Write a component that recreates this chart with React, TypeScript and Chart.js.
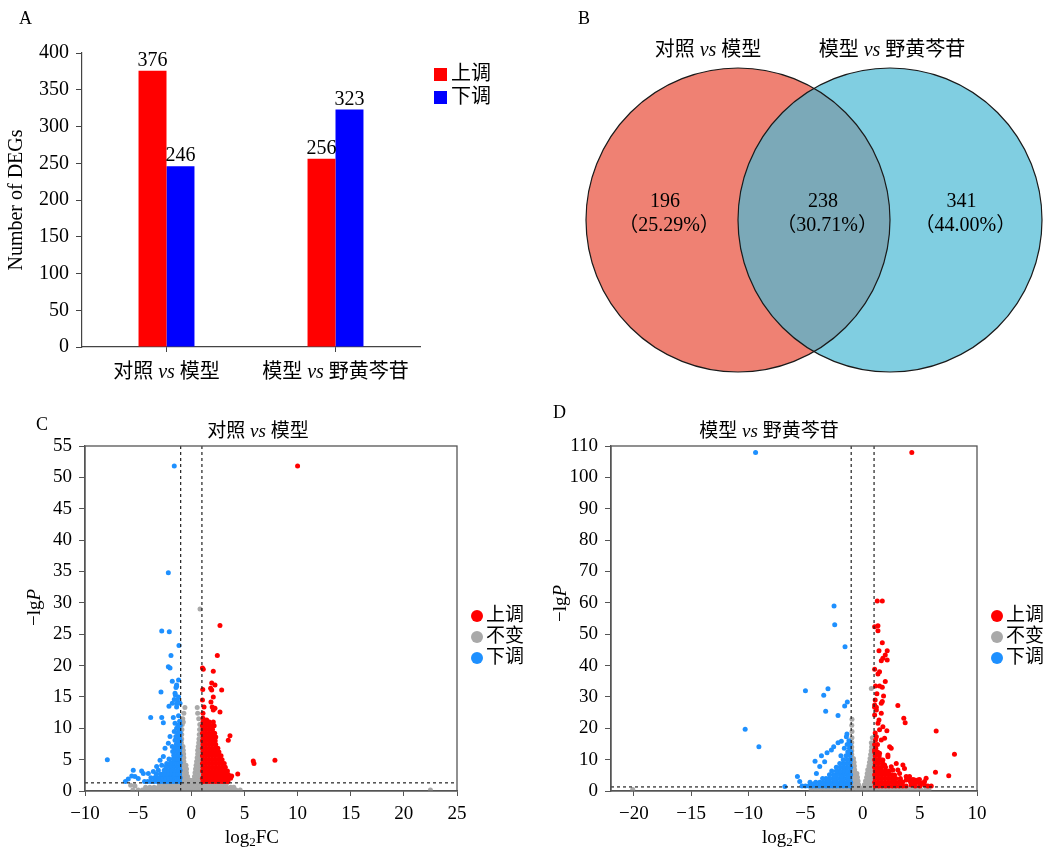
import React, { useEffect, useRef } from "react";
import { Chart, registerables } from "chart.js";

Chart.register(...registerables);

// ---------------- DATA ----------------
// Panel A: bar chart
const barCategories = ["对照 vs 模型", "模型 vs 野黄芩苷"];
const barSeries = ["上调", "下调"];
const upCounts = [376, 256];
const downCounts = [246, 323];

// Panel B: Venn diagram
const vennSets = ["对照 vs 模型", "模型 vs 野黄芩苷"];
const vennCounts = [196, 238, 341];
const vennPercents = ["（25.29%）", "（30.71%）", "（44.00%）"];
const vennCenterX = [0, 1];
const vennCenterY = [0, 0];
const vennRadius = 1;

// Volcano shared
const volcanoSeries = ["上调", "不变", "下调"];
const fcThresholds = [-1, 1];
const pThreshold = 1.3;

// Panel C: 对照 vs 模型
const cTitle = "对照 vs 模型";
const cUpOutliers: number[][] = [
  [10.0, 51.8], [2.7, 26.4], [2.45, 21.6], [1.05, 19.6], [1.13, 19.4], [2.07, 19.1], [1.92, 17.2], [2.23, 16.9],
  [1.82, 16.4], [2.86, 16.1], [1.92, 16.1], [1.08, 16.2], [1.05, 14.5], [2.07, 15.0], [1.85, 14.2], [1.2, 13.4],
  [1.97, 13.4], [2.07, 12.9], [2.23, 13.2], [2.7, 12.6], [1.1, 12.4], [1.1, 11.6], [1.45, 11.3], [2.07, 11.0],
  [3.64, 8.8], [3.48, 8.1], [5.83, 4.8], [5.9, 4.4], [7.87, 4.9], [4.37, 2.7], [3.8, 2.4],
];
const cUpCluster: number[][] = [
  [1.1, 1.5], [1.4, 1.5], [1.7, 1.5], [2.0, 1.5], [2.3, 1.5], [2.6, 1.5], [2.9, 1.5], [3.2, 1.5], [3.45, 1.5],
  [1.05, 2.05], [1.3, 2.05], [1.6, 2.05], [1.9, 2.05], [2.2, 2.05], [2.5, 2.05], [2.8, 2.05], [3.1, 2.05], [3.4, 2.05], [3.7, 2.05],
  [1.15, 2.6], [1.45, 2.6], [1.75, 2.6], [2.05, 2.6], [2.35, 2.6], [2.65, 2.6], [2.95, 2.6], [3.25, 2.6], [3.5, 2.6],
  [1.05, 3.2], [1.35, 3.2], [1.65, 3.2], [1.95, 3.2], [2.25, 3.2], [2.55, 3.2], [2.85, 3.2], [3.15, 3.2], [3.4, 3.2],
  [1.1, 3.8], [1.4, 3.8], [1.7, 3.8], [2.0, 3.8], [2.3, 3.8], [2.6, 3.8], [2.9, 3.8], [3.2, 3.8],
  [1.05, 4.4], [1.35, 4.4], [1.65, 4.4], [1.95, 4.4], [2.25, 4.4], [2.55, 4.4], [2.85, 4.4], [3.1, 4.4],
  [1.1, 5.0], [1.4, 5.0], [1.7, 5.0], [2.0, 5.0], [2.3, 5.0], [2.6, 5.0], [2.9, 5.0],
  [1.05, 5.6], [1.35, 5.6], [1.65, 5.6], [1.95, 5.6], [2.25, 5.6], [2.55, 5.6], [2.8, 5.6],
  [1.1, 6.2], [1.4, 6.2], [1.7, 6.2], [2.0, 6.2], [2.3, 6.2], [2.6, 6.2],
  [1.05, 6.8], [1.35, 6.8], [1.65, 6.8], [1.95, 6.8], [2.25, 6.8], [2.5, 6.8],
  [1.1, 7.4], [1.4, 7.4], [1.7, 7.4], [2.0, 7.4], [2.3, 7.4],
  [1.05, 8.0], [1.35, 8.0], [1.65, 8.0], [1.95, 8.0], [2.25, 8.0],
  [1.1, 8.6], [1.4, 8.6], [1.7, 8.6], [2.0, 8.6], [2.3, 8.6],
  [1.05, 9.2], [1.35, 9.2], [1.65, 9.2], [1.95, 9.2], [2.2, 9.2],
  [1.1, 9.8], [1.4, 9.8], [1.7, 9.8], [2.0, 9.8],
  [1.05, 10.4], [1.35, 10.4], [1.65, 10.4], [1.95, 10.4], [2.15, 10.4],
  [1.1, 11.0], [1.4, 11.0], [1.7, 11.0],
];
const cDownOutliers: number[][] = [
  [-1.6, 51.8], [-2.16, 34.8], [-2.78, 25.5], [-2.07, 25.4], [-1.16, 23.2], [-1.91, 21.6], [-2.16, 19.8], [-2.0, 19.6],
  [-1.2, 17.7], [-1.79, 17.5], [-1.38, 16.9], [-1.38, 16.7], [-1.44, 16.5], [-2.85, 15.8], [-1.53, 15.6], [-1.5, 15.3],
  [-1.2, 15.0], [-1.6, 14.6], [-1.3, 14.5], [-1.06, 14.0], [-1.79, 14.0], [-1.38, 13.9], [-2.1, 13.5], [-1.38, 13.4],
  [-3.82, 11.7], [-2.78, 11.7], [-1.69, 11.7], [-2.63, 10.9], [-1.53, 10.8], [-1.38, 10.0], [-1.6, 9.5], [-2.0, 8.7],
  [-1.53, 8.1], [-2.16, 7.6], [-1.79, 7.1], [-2.47, 6.8], [-2.63, 5.5], [-2.94, 4.9], [-2.31, 4.4], [-2.78, 4.1],
  [-3.26, 3.9], [-3.1, 3.3], [-5.46, 3.3], [-4.67, 3.2], [-3.57, 3.1], [-4.04, 2.8], [-4.51, 2.8], [-5.6, 2.4],
  [-5.3, 2.3], [-4.99, 2.0], [-5.93, 1.9], [-6.2, 1.5], [-7.9, 5.0],
];
const cDownCluster: number[][] = [
  [-1.1, 1.5], [-1.4, 1.5], [-1.7, 1.5], [-2.0, 1.5], [-2.3, 1.5], [-2.6, 1.5], [-2.9, 1.5], [-3.2, 1.5], [-3.5, 1.5], [-3.8, 1.5], [-4.1, 1.5], [-4.4, 1.5],
  [-1.05, 2.1], [-1.35, 2.1], [-1.65, 2.1], [-1.95, 2.1], [-2.25, 2.1], [-2.55, 2.1], [-2.85, 2.1], [-3.15, 2.1], [-3.45, 2.1], [-3.8, 2.1],
  [-1.1, 2.7], [-1.4, 2.7], [-1.7, 2.7], [-2.0, 2.7], [-2.3, 2.7], [-2.6, 2.7], [-2.9, 2.7], [-3.3, 2.7],
  [-1.05, 3.3], [-1.35, 3.3], [-1.65, 3.3], [-1.95, 3.3], [-2.25, 3.3], [-2.55, 3.3],
  [-1.1, 3.9], [-1.4, 3.9], [-1.7, 3.9], [-2.0, 3.9], [-2.4, 3.9],
  [-1.05, 4.5], [-1.35, 4.5], [-1.65, 4.5], [-1.95, 4.5],
  [-1.1, 5.1], [-1.4, 5.1], [-1.7, 5.1], [-2.1, 5.1],
  [-1.05, 5.7], [-1.35, 5.7], [-1.65, 5.7],
  [-1.1, 6.3], [-1.4, 6.3], [-1.75, 6.3],
  [-1.05, 6.9], [-1.35, 6.9], [-1.6, 6.9],
  [-1.1, 7.5], [-1.4, 7.5], [-1.05, 8.1], [-1.3, 8.1], [-1.1, 8.7], [-1.45, 8.7],
  [-1.05, 9.3], [-1.3, 9.3], [-1.15, 9.9], [-1.05, 10.5], [-1.25, 10.5], [-1.1, 11.1], [-1.2, 12.0],
];
const cFlat: number[][] = [
  [-5.5, 0.15], [-5.0, 0.15], [-4.6, 0.15], [-4.2, 0.15], [-3.8, 0.15], [-3.4, 0.15], [-3.0, 0.15], [-2.6, 0.15], [-2.2, 0.15],
  [-1.8, 0.15], [-1.4, 0.15], [-1.0, 0.15], [-0.6, 0.15], [-0.2, 0.15], [0.2, 0.15], [0.6, 0.15], [1.0, 0.15], [1.4, 0.15],
  [1.8, 0.15], [2.2, 0.15], [2.6, 0.15], [3.0, 0.15], [3.4, 0.15], [3.8, 0.15], [4.2, 0.15], [4.6, 0.15],
  [-5.7, 0.9], [-5.3, 0.8], [-4.3, 0.6], [-3.9, 0.6], [-3.5, 0.6], [-3.1, 0.6], [-2.7, 0.6], [-2.3, 0.6], [-1.9, 0.6],
  [-1.5, 0.6], [-1.1, 0.6], [-0.7, 0.6], [-0.3, 0.6], [0.1, 0.6], [0.5, 0.6], [0.9, 0.6], [1.3, 0.6], [1.7, 0.6],
  [2.1, 0.6], [2.5, 0.6], [2.9, 0.6], [3.3, 0.6], [3.7, 0.6], [4.0, 0.6],
  [-3.0, 1.1], [-2.6, 1.1], [-2.2, 1.1], [-1.8, 1.1], [-1.4, 1.1], [-1.0, 1.1], [-0.6, 1.1], [-0.2, 1.1], [0.2, 1.1],
  [0.6, 1.1], [1.0, 1.1], [1.4, 1.1], [1.8, 1.1], [2.2, 1.1], [2.6, 1.1], [3.0, 1.1], [3.3, 1.1],
  [-0.95, 1.7], [-0.65, 1.7], [-0.35, 1.7], [-0.1, 1.7], [-0.95, 2.3], [-0.65, 2.3], [-0.35, 2.3],
  [-0.95, 2.9], [-0.7, 2.9], [-0.45, 2.9], [-0.95, 3.5], [-0.7, 3.5], [-0.45, 3.5], [-0.95, 4.1], [-0.7, 4.1], [-0.5, 4.1],
  [-0.95, 4.7], [-0.7, 4.7], [-0.95, 5.3], [-0.7, 5.3], [-0.95, 5.9], [-0.72, 5.9], [-0.95, 6.5], [-0.75, 6.5],
  [-0.95, 7.1], [-0.78, 7.1], [-0.93, 7.7], [-0.9, 8.3], [-0.9, 9.0], [-0.88, 9.8], [-0.85, 10.6], [-0.75, 11.0],
  [-0.8, 11.5], [-0.7, 12.4], [-0.6, 13.3],
  [0.15, 1.7], [0.45, 1.7], [0.75, 1.7], [0.95, 1.7], [0.3, 2.3], [0.55, 2.3], [0.8, 2.3], [0.95, 2.3],
  [0.35, 2.9], [0.6, 2.9], [0.85, 2.9], [0.4, 3.5], [0.65, 3.5], [0.9, 3.5], [0.45, 4.1], [0.7, 4.1], [0.92, 4.1],
  [0.5, 4.7], [0.75, 4.7], [0.93, 4.7], [0.55, 5.3], [0.8, 5.3], [0.95, 5.3], [0.6, 5.9], [0.85, 5.9],
  [0.6, 6.5], [0.85, 6.5], [0.65, 7.1], [0.88, 7.1], [0.7, 7.7], [0.9, 7.7], [0.72, 8.3], [0.92, 8.3],
  [0.75, 9.0], [0.78, 9.8], [0.8, 10.6], [0.7, 11.5], [0.6, 12.4], [0.56, 13.3], [0.82, 29.0], [22.5, 0.15],
];

// Panel D: 模型 vs 野黄芩苷
const dTitle = "模型 vs 野黄芩苷";
const dXTicks = [-20, -15, -10, -5, 0, 5, 10];
const dUpOutliers: number[][] = [
  [4.3, 107.9], [1.28, 60.6], [1.72, 60.6], [1.05, 52.4], [1.34, 52.7], [1.34, 51.1], [1.72, 47.3], [1.43, 44.7],
  [2.15, 44.7], [1.98, 43.4], [1.77, 42.3], [2.15, 41.8], [1.63, 41.5], [1.05, 38.8], [1.48, 38.0], [1.34, 37.3],
  [1.98, 34.9], [1.13, 33.5], [1.48, 33.5], [1.72, 33.1], [1.83, 30.3], [1.72, 28.5], [1.63, 28.0], [1.05, 27.4],
  [3.08, 27.3], [1.2, 26.7], [1.05, 26.7], [1.2, 25.8], [1.63, 24.8], [1.05, 24.2], [3.6, 23.2], [1.43, 22.6],
  [3.72, 21.8], [1.34, 21.6], [1.77, 20.5], [1.48, 19.5], [2.12, 19.2], [6.43, 19.1], [1.2, 17.3], [1.92, 16.8],
  [1.63, 16.3], [1.13, 16.3], [2.36, 14.1], [2.5, 13.6], [1.05, 13.1], [1.48, 12.0], [8.03, 11.7], [2.21, 11.5],
  [2.21, 10.9], [1.77, 9.9], [1.34, 9.9], [2.94, 8.8], [3.52, 8.3], [1.92, 8.3], [2.5, 7.7], [3.66, 7.2],
  [2.64, 6.7], [3.08, 6.7], [1.48, 6.7], [6.37, 6.0], [3.23, 5.6], [2.21, 5.6], [2.79, 5.1], [7.53, 4.9],
  [4.1, 4.6], [3.81, 4.6], [5.55, 4.05], [4.4, 3.7], [4.97, 3.7], [4.54, 3.5], [4.83, 3.5], [3.81, 3.5],
  [4.1, 3.5], [5.41, 3.0], [3.38, 3.0], [2.64, 3.0], [5.12, 2.5], [4.39, 2.5], [4.97, 2.5], [5.41, 1.9],
  [4.25, 1.9], [6.0, 1.6], [1.1, 29.0], [1.25, 31.0], [1.1, 18.5],
];
const dUpCluster: number[][] = [
  [1.1, 1.6], [1.4, 1.6], [1.7, 1.6], [2.0, 1.6], [2.3, 1.6], [2.6, 1.6], [2.9, 1.6], [3.2, 1.6], [3.5, 1.6], [3.8, 1.6], [4.6, 1.6], [5.0, 1.6], [5.7, 1.6],
  [1.05, 2.8], [1.35, 2.8], [1.65, 2.8], [1.95, 2.8], [2.25, 2.8], [2.55, 2.8], [2.85, 2.8], [3.15, 2.8], [3.5, 2.8], [4.2, 2.8], [4.7, 2.8],
  [1.1, 4.0], [1.4, 4.0], [1.7, 4.0], [2.0, 4.0], [2.3, 4.0], [2.6, 4.0], [2.9, 4.0], [3.3, 4.0],
  [1.05, 5.2], [1.35, 5.2], [1.65, 5.2], [1.95, 5.2], [2.25, 5.2], [2.55, 5.2],
  [1.1, 6.4], [1.4, 6.4], [1.7, 6.4], [2.0, 6.4], [2.3, 6.4],
  [1.05, 7.6], [1.35, 7.6], [1.65, 7.6], [2.0, 7.6],
  [1.1, 8.8], [1.4, 8.8], [1.75, 8.8], [1.05, 10.0], [1.3, 10.0], [1.6, 10.0],
  [1.1, 11.2], [1.45, 11.2], [1.05, 12.4], [1.3, 12.4], [1.15, 13.6], [1.05, 14.8], [1.3, 14.8],
];
const dDownOutliers: number[][] = [
  [-9.36, 107.9], [-2.5, 59.0], [-2.44, 53.0], [-1.54, 46.0], [-3.03, 32.6], [-5.0, 32.0], [-3.4, 30.5], [-1.34, 28.4],
  [-1.57, 27.1], [-3.23, 25.4], [-2.15, 24.1], [-10.27, 19.7], [-1.37, 18.2], [-1.42, 17.3], [-1.86, 15.9], [-2.15, 15.4],
  [-9.07, 14.1], [-2.53, 14.1], [-2.73, 13.1], [-3.11, 12.2], [-3.6, 11.2], [-4.16, 9.5], [-3.32, 9.3], [-3.75, 7.8],
  [-4.04, 5.6], [-5.7, 4.6], [-5.5, 3.0], [-6.8, 1.4],
];
const dDownCluster: number[][] = [
  [-1.1, 1.6], [-1.4, 1.6], [-1.7, 1.6], [-2.0, 1.6], [-2.3, 1.6], [-2.6, 1.6], [-2.9, 1.6], [-3.2, 1.6], [-3.5, 1.6], [-3.8, 1.6], [-4.1, 1.6], [-4.4, 1.6], [-4.7, 1.6], [-5.0, 1.6], [-5.3, 1.6],
  [-1.05, 2.8], [-1.35, 2.8], [-1.65, 2.8], [-1.95, 2.8], [-2.25, 2.8], [-2.55, 2.8], [-2.85, 2.8], [-3.15, 2.8], [-3.45, 2.8], [-3.75, 2.8], [-4.1, 2.8], [-4.6, 2.8],
  [-1.1, 4.0], [-1.4, 4.0], [-1.7, 4.0], [-2.0, 4.0], [-2.3, 4.0], [-2.6, 4.0], [-2.9, 4.0], [-3.2, 4.0], [-3.5, 4.0],
  [-1.05, 5.2], [-1.35, 5.2], [-1.65, 5.2], [-1.95, 5.2], [-2.25, 5.2], [-2.55, 5.2], [-2.9, 5.2],
  [-1.1, 6.4], [-1.4, 6.4], [-1.7, 6.4], [-2.0, 6.4], [-2.3, 6.4], [-2.7, 6.4],
  [-1.05, 7.6], [-1.35, 7.6], [-1.65, 7.6], [-1.95, 7.6], [-2.3, 7.6],
  [-1.1, 8.8], [-1.4, 8.8], [-1.7, 8.8], [-2.0, 8.8], [-1.05, 10.0], [-1.35, 10.0], [-1.7, 10.0],
  [-1.1, 11.2], [-1.45, 11.2], [-1.9, 11.2], [-1.05, 12.4], [-1.3, 12.4], [-1.15, 13.6], [-1.6, 13.6],
  [-1.1, 14.8], [-1.35, 14.8], [-1.2, 16.0],
  [-1.25, 2.2], [-1.85, 2.2], [-2.45, 2.2], [-3.05, 2.2], [-3.6, 2.2], [-4.3, 2.2],
  [-1.25, 3.4], [-1.85, 3.4], [-2.45, 3.4], [-3.05, 3.4], [-1.25, 4.6], [-1.85, 4.6], [-2.45, 4.6],
];
const dFlat: number[][] = [
  [-4.5, 0.3], [-4.1, 0.3], [-3.7, 0.3], [-3.3, 0.3], [-2.9, 0.3], [-2.5, 0.3], [-2.1, 0.3], [-1.7, 0.3], [-1.3, 0.3],
  [-0.9, 0.3], [-0.5, 0.3], [-0.1, 0.3], [0.3, 0.3], [0.7, 0.3], [1.1, 0.3], [1.5, 0.3], [1.9, 0.3], [2.3, 0.3],
  [2.7, 0.3], [3.1, 0.3], [3.5, 0.3], [3.9, 0.3], [4.3, 0.3], [4.7, 0.3], [5.1, 0.3], [5.5, 0.3], [5.8, 0.3],
  [-4.2, 1.0], [-3.8, 1.0], [-3.4, 1.0], [-3.0, 1.0], [-2.6, 1.0], [-2.2, 1.0], [-1.8, 1.0], [-1.4, 1.0], [-1.0, 1.0],
  [-0.6, 1.0], [-0.2, 1.0], [0.2, 1.0], [0.6, 1.0], [1.0, 1.0], [1.4, 1.0], [1.8, 1.0], [2.2, 1.0], [2.6, 1.0],
  [3.0, 1.0], [3.4, 1.0], [3.8, 1.0], [4.2, 1.0], [4.6, 1.0], [5.0, 1.0], [-20.1, 0.5],
  [-0.95, 2.0], [-0.65, 2.0], [-0.35, 2.0], [-0.95, 3.2], [-0.65, 3.2], [-0.4, 3.2], [-0.95, 4.4], [-0.7, 4.4], [-0.45, 4.4],
  [-0.95, 5.6], [-0.7, 5.6], [-0.5, 5.6], [-0.95, 6.8], [-0.7, 6.8], [-0.95, 8.0], [-0.72, 8.0], [-0.95, 9.2], [-0.75, 9.2],
  [-0.95, 10.4], [-0.8, 10.4], [-0.95, 11.6], [-0.95, 12.8], [-0.95, 14.0], [-0.95, 15.5], [-0.93, 17.0], [-0.93, 19.0],
  [-0.95, 21.0], [-0.93, 22.9],
  [0.15, 2.0], [0.45, 2.0], [0.75, 2.0], [0.95, 2.0], [0.25, 3.2], [0.5, 3.2], [0.75, 3.2], [0.95, 3.2],
  [0.35, 4.4], [0.6, 4.4], [0.85, 4.4], [0.4, 5.6], [0.65, 5.6], [0.9, 5.6], [0.45, 6.8], [0.7, 6.8], [0.92, 6.8],
  [0.55, 8.0], [0.8, 8.0], [0.6, 9.2], [0.85, 9.2], [0.65, 10.4], [0.88, 10.4], [0.7, 11.6], [0.9, 11.6],
  [0.75, 12.8], [0.78, 14.0], [0.76, 15.4], [0.85, 17.0], [0.76, 32.7],
];

// ---------------- STYLE HELPERS ----------------
const FAMILY = "'Liberation Serif', 'Times New Roman', 'Noto Sans CJK SC', serif";
const fontStr = (size: number, italic = false) => `${italic ? "italic " : ""}${size}px ${FAMILY}`;
const RED = "#FF0000";
const BLUE = "#0000FF";
const V_RED = "#FF0000";
const V_GRAY = "#A9A9A9";
const V_BLUE = "#1E90FF";
const AXIS = "#555555";
const POINT_R = 2.5;

type Seg = { t: string; italic?: boolean; size?: number; dy?: number };

function drawSegs(ctx: CanvasRenderingContext2D, segs: Seg[], x: number, y: number, size: number, align: "center" | "left" = "center") {
  ctx.save();
  ctx.textBaseline = "middle";
  ctx.textAlign = "left";
  ctx.fillStyle = "#000";
  const widths = segs.map((s) => {
    ctx.font = fontStr(s.size ?? size, s.italic);
    return ctx.measureText(s.t).width;
  });
  const total = widths.reduce((a, b) => a + b, 0);
  let cx = align === "center" ? x - total / 2 : x;
  segs.forEach((s, i) => {
    ctx.font = fontStr(s.size ?? size, s.italic);
    ctx.fillText(s.t, cx, y + (s.dy ?? 0));
    cx += widths[i];
  });
  ctx.restore();
}

function comparisonSegs(text: string): Seg[] {
  const [a, b] = text.split(" vs ");
  return [{ t: a + " " }, { t: "vs", italic: true }, { t: " " + b }];
}

function drawRotated(ctx: CanvasRenderingContext2D, segs: Seg[], x: number, y: number, size: number) {
  ctx.save();
  ctx.translate(x, y);
  ctx.rotate(-Math.PI / 2);
  drawSegs(ctx, segs, 0, 0, size);
  ctx.restore();
}

function panelLetter(ctx: CanvasRenderingContext2D, letter: string, x: number, y: number) {
  drawSegs(ctx, [{ t: letter }], x, y, 18, "left");
}

const minusFmt = (v: any) => (Number(v) < 0 ? "\u2212" + Math.abs(Number(v)) : String(v));

// ---------------- CHART FACTORIES ----------------
function makeBar(canvas: HTMLCanvasElement) {
  return new Chart(canvas, {
    type: "bar",
    data: {
      labels: barCategories,
      datasets: [
        { label: barSeries[0], data: upCounts, backgroundColor: RED, borderWidth: 0 },
        { label: barSeries[1], data: downCounts, backgroundColor: BLUE, borderWidth: 0 },
      ],
    },
    options: {
      responsive: false,
      animation: false,
      devicePixelRatio: 1,
      layout: { padding: { top: 53, right: 120, left: 0, bottom: 0 } },
      plugins: { legend: { display: false }, tooltip: { enabled: false } },
      datasets: { bar: { categoryPercentage: 0.331, barPercentage: 1 } },
      scales: {
        x: {
          grid: { offset: false, drawOnChartArea: false, tickLength: 5, color: "#444" },
          border: { color: "#444", width: 1.2 },
          ticks: { display: false },
          afterFit: (s: any) => { s.height = 53; },
        },
        y: {
          min: 0,
          max: 400,
          ticks: { stepSize: 50, color: "#000", padding: 7, font: { family: FAMILY, size: 20 } },
          grid: { drawOnChartArea: false, tickLength: 6, color: "#444" },
          border: { color: "#444", width: 1.2 },
          afterFit: (s: any) => { s.width = 82; },
        },
      },
    },
    plugins: [
      {
        id: "barDecor",
        afterDraw(chart: any) {
          const ctx = chart.ctx as CanvasRenderingContext2D;
          const area = chart.chartArea;
          chart.data.datasets.forEach((ds: any, di: number) => {
            const meta = chart.getDatasetMeta(di);
            meta.data.forEach((el: any, i: number) => {
              ctx.save();
              ctx.font = fontStr(20);
              ctx.fillStyle = "#000";
              ctx.textAlign = "center";
              ctx.textBaseline = "alphabetic";
              ctx.fillText(String(ds.data[i]), el.x, el.y - 5);
              ctx.restore();
            });
          });
          const xs = chart.scales.x;
          barCategories.forEach((c, i) => {
            drawSegs(ctx, comparisonSegs(c), xs.getPixelForValue(i), area.bottom + 26, 20);
          });
          drawRotated(ctx, [{ t: "Number of DEGs" }], 17, (area.top + area.bottom) / 2, 20);
          chart.data.datasets.forEach((ds: any, i: number) => {
            const lx = area.right + 14;
            const ly = area.top + 15 + i * 23;
            ctx.fillStyle = ds.backgroundColor;
            ctx.fillRect(lx, ly, 13, 13);
            drawSegs(ctx, [{ t: ds.label }], lx + 17, ly + 7, 20, "left");
          });
          panelLetter(ctx, "A", 19, 19);
        },
      },
    ],
  } as any);
}

function makeVenn(canvas: HTMLCanvasElement) {
  return new Chart(canvas, {
    type: "scatter",
    data: {
      datasets: [
        { label: "centers", data: vennCenterX.map((x, i) => ({ x, y: vennCenterY[i] })), pointRadius: 0 },
      ],
    },
    options: {
      responsive: false,
      animation: false,
      devicePixelRatio: 1,
      layout: { padding: { left: 46, right: 4, top: 68, bottom: 28 } },
      plugins: { legend: { display: false }, tooltip: { enabled: false } },
      scales: {
        x: { display: false, min: -1, max: 2 },
        y: { display: false, min: -1, max: 1 },
      },
    },
    plugins: [
      {
        id: "vennDraw",
        afterDatasetsDraw(chart: any) {
          const ctx = chart.ctx as CanvasRenderingContext2D;
          const xs = chart.scales.x;
          const ys = chart.scales.y;
          const c = vennCenterX.map((x, i) => ({ x: xs.getPixelForValue(x), y: ys.getPixelForValue(vennCenterY[i]) }));
          const r = xs.getPixelForValue(vennRadius) - xs.getPixelForValue(0);
          const circle = (i: number) => {
            ctx.beginPath();
            ctx.arc(c[i].x, c[i].y, r, 0, Math.PI * 2);
          };
          ctx.save();
          circle(0); ctx.fillStyle = "#EF8173"; ctx.fill();
          circle(1); ctx.fillStyle = "#80CEE1"; ctx.fill();
          ctx.save();
          circle(0); ctx.clip();
          circle(1); ctx.fillStyle = "#7BA9B8"; ctx.fill();
          ctx.restore();
          ctx.strokeStyle = "#1a1a1a";
          ctx.lineWidth = 1.2;
          circle(0); ctx.stroke();
          circle(1); ctx.stroke();
          ctx.restore();
          drawSegs(ctx, comparisonSegs(vennSets[0]), c[0].x - 30, c[0].y - r - 17, 20);
          drawSegs(ctx, comparisonSegs(vennSets[1]), c[1].x + 2, c[1].y - r - 17, 20);
          const rx = [c[0].x - 0.48 * r, (c[0].x + c[1].x) / 2 + 0.06 * r, c[1].x + 0.47 * r];
          vennCounts.forEach((n, i) => {
            drawSegs(ctx, [{ t: String(n) }], rx[i], c[0].y - 18, 20);
            drawSegs(ctx, [{ t: vennPercents[i] }], rx[i] + 4, c[0].y + 6, 20);
          });
          panelLetter(ctx, "B", 38, 19);
        },
      },
    ],
  } as any);
}

type VolcanoCfg = {
  title: string;
  up: number[][];
  flat: number[][];
  down: number[][];
  xMin: number; xMax: number; xStep: number; xTicks?: number[];
  yMax: number; yStep: number;
  yAxisWidth: number; plotWidth: number;
  titleDx: number; xTitleDx: number;
  yTitleX: number; yTitleDy: number;
  letter: string; letterX: number; letterY: number;
};

function makeVolcano(canvas: HTMLCanvasElement, cfg: VolcanoCfg) {
  const pts = (arr: number[][]) => arr.map(([x, y]) => ({ x, y }));
  const colors = [V_RED, V_GRAY, V_BLUE];
  return new Chart(canvas, {
    type: "scatter",
    data: {
      datasets: [
        { label: volcanoSeries[0], data: pts(cfg.up), backgroundColor: colors[0], pointRadius: POINT_R, borderWidth: 0, order: 1 },
        { label: volcanoSeries[1], data: pts(cfg.flat), backgroundColor: colors[1], pointRadius: POINT_R, borderWidth: 0, order: 3 },
        { label: volcanoSeries[2], data: pts(cfg.down), backgroundColor: colors[2], pointRadius: POINT_R, borderWidth: 0, order: 2 },
      ],
    },
    options: {
      responsive: false,
      animation: false,
      devicePixelRatio: 1,
      layout: { padding: { top: 46, right: canvas.width - cfg.yAxisWidth - cfg.plotWidth, left: 0, bottom: 0 } },
      plugins: { legend: { display: false }, tooltip: { enabled: false } },
      scales: {
        x: {
          type: "linear",
          min: cfg.xMin,
          max: cfg.xMax,
          ticks: { stepSize: cfg.xStep, color: "#000", padding: 7, font: { family: FAMILY, size: 19 }, callback: minusFmt, maxRotation: 0, autoSkip: false },
          afterBuildTicks: cfg.xTicks ? (s: any) => { s.ticks = cfg.xTicks!.map((v) => ({ value: v })); } : undefined,
          grid: { drawOnChartArea: false, tickLength: 5, color: AXIS },
          border: { color: AXIS, width: 1.3 },
          afterFit: (s: any) => { s.height = 61; },
        },
        y: {
          min: 0,
          max: cfg.yMax,
          ticks: { stepSize: cfg.yStep, color: "#000", padding: 7, font: { family: FAMILY, size: 19 } },
          grid: { drawOnChartArea: false, tickLength: 6, color: AXIS },
          border: { color: AXIS, width: 1.3 },
          afterFit: (s: any) => { s.width = cfg.yAxisWidth; },
        },
      },
    },
    plugins: [
      {
        id: "volcanoDecor",
        afterDatasetsDraw(chart: any) {
          const ctx = chart.ctx as CanvasRenderingContext2D;
          const area = chart.chartArea;
          const xs = chart.scales.x;
          const ys = chart.scales.y;
          ctx.save();
          ctx.strokeStyle = "#222";
          ctx.lineWidth = 1.2;
          ctx.setLineDash([3, 3]);
          fcThresholds.forEach((t) => {
            const px = xs.getPixelForValue(t);
            ctx.beginPath();
            ctx.moveTo(px, area.top);
            ctx.lineTo(px, area.bottom);
            ctx.stroke();
          });
          const py = ys.getPixelForValue(pThreshold);
          ctx.beginPath();
          ctx.moveTo(area.left, py);
          ctx.lineTo(area.right, py);
          ctx.stroke();
          ctx.restore();
          ctx.save();
          ctx.strokeStyle = AXIS;
          ctx.lineWidth = 1.3;
          ctx.strokeRect(area.left, area.top, area.right - area.left, area.bottom - area.top);
          ctx.restore();
        },
        afterDraw(chart: any) {
          const ctx = chart.ctx as CanvasRenderingContext2D;
          const area = chart.chartArea;
          const midX = (area.left + area.right) / 2;
          const midY = (area.top + area.bottom) / 2;
          drawSegs(ctx, comparisonSegs(cfg.title), midX + cfg.titleDx, area.top - 14, 19);
          drawSegs(ctx, [{ t: "log" }, { t: "2", size: 13, dy: 5 }, { t: "FC" }], midX + cfg.xTitleDx, area.bottom + 47, 19);
          drawRotated(ctx, [{ t: "\u2212lg" }, { t: "P", italic: true }], cfg.yTitleX, midY + cfg.yTitleDy, 19);
          chart.data.datasets.forEach((ds: any, i: number) => {
            const lx = area.right + 20;
            const ly = area.top + 170 + i * 21;
            ctx.beginPath();
            ctx.arc(lx, ly, 6, 0, Math.PI * 2);
            ctx.fillStyle = ds.backgroundColor;
            ctx.fill();
            drawSegs(ctx, [{ t: ds.label }], lx + 9, ly, 19, "left");
          });
          panelLetter(ctx, cfg.letter, cfg.letterX, cfg.letterY);
        },
      },
    ],
  } as any);
}

// ---------------- COMPONENTS ----------------
function Panel({ left, top, width, height, make }: { left: number; top: number; width: number; height: number; make: (c: HTMLCanvasElement) => Chart }) {
  const ref = useRef<HTMLCanvasElement>(null);
  useEffect(() => {
    const chart = make(ref.current!);
    return () => chart.destroy();
  }, []);
  return (
    <canvas
      ref={ref}
      width={width}
      height={height}
      style={{ position: "absolute", left, top, width, height, display: "block" }}
    />
  );
}

export default function App() {
  return (
    <div style={{ position: "absolute", left: 0, top: 0, width: 1046, height: 852, background: "#fff", overflow: "hidden" }}>
      <Panel left={0} top={0} width={540} height={400} make={makeBar} />
      <Panel left={540} top={0} width={506} height={400} make={makeVenn} />
      <Panel
        left={0}
        top={400}
        width={540}
        height={452}
        make={(c) =>
          makeVolcano(c, {
            title: cTitle, up: [...cUpOutliers, ...cUpCluster], flat: cFlat, down: [...cDownOutliers, ...cDownCluster],
            xMin: -10, xMax: 25, xStep: 5, yMax: 55, yStep: 5, yAxisWidth: 85, plotWidth: 372,
            titleDx: -13, xTitleDx: -19, yTitleX: 35, yTitleDy: -11,
            letter: "C", letterX: 36, letterY: 25,
          })
        }
      />
      <Panel
        left={540}
        top={400}
        width={506}
        height={452}
        make={(c) =>
          makeVolcano(c, {
            title: dTitle, up: [...dUpOutliers, ...dUpCluster], flat: dFlat, down: [...dDownOutliers, ...dDownCluster],
            xMin: -22, xMax: 10, xStep: 5, xTicks: dXTicks, yMax: 110, yStep: 10, yAxisWidth: 71, plotWidth: 366,
            titleDx: -25, xTitleDx: -5, yTitleX: 21, yTitleDy: -15,
            letter: "D", letterX: 13, letterY: 13,
          })
        }
      />
    </div>
  );
}
